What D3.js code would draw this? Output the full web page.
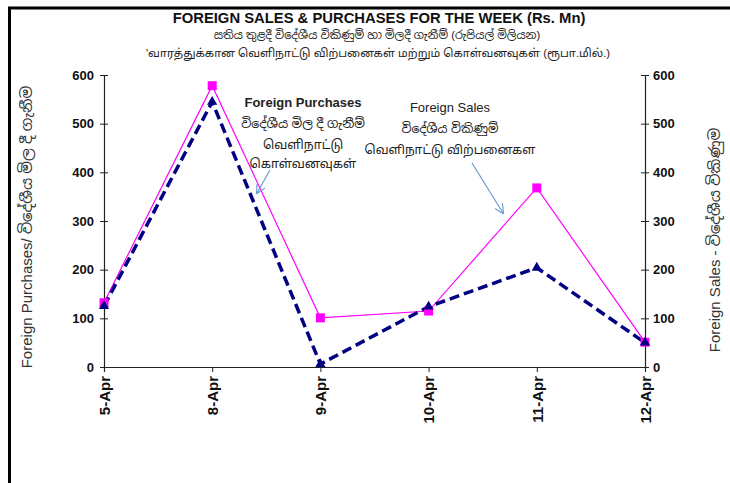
<!DOCTYPE html>
<html>
<head>
<meta charset="utf-8">
<script src="https://cdn.jsdelivr.net/npm/d3@7"></script>
<style>
body { margin: 0; background: #fff; }
text { font-family: "Liberation Sans", Arial, "Noto Sans Sinhala", "Noto Sans Tamil", sans-serif; }
</style>
</head>
<body>
<div id="main_div"></div>
<script>
var dates = ["5-Apr", "8-Apr", "9-Apr", "10-Apr", "11-Apr", "12-Apr"];
var sales = [132, 578, 101, 115, 368, 51];
var purchases = [125, 545, 6, 124, 204, 50];
var yticks = [0, 100, 200, 300, 400, 500, 600];

var titles = [
    "FOREIGN SALES & PURCHASES FOR THE WEEK (Rs. Mn)",
    "සතිය තුළදී විදේශීය විකිණුම් හා මිලදී ගැනීම් (රුපියල් මිලියන)",
    "'வாரத்துக்கான  வெளிநாட்டு  விற்பனைகள்  மற்றும்  கொள்வனவுகள்  (ரூபா.மில்.)"
];
var purchNote = ["Foreign Purchases", "විදේශීය මිල දී ගැනීම්", "வெளிநாட்டு", "கொள்வனவுகள்"];
var salesNote = ["Foreign Sales", "විදේශීය විකිණුම්", "வெளிநாட்டு  விற்பனைகள"];

var W = 730, H = 483;
var svg = d3.select("#main_div").append("svg").attr("width", W).attr("height", H);

// frame
svg.append("line").attr("x1", 8).attr("x2", W).attr("y1", 8).attr("y2", 8)
    .attr("stroke", "#000").attr("stroke-width", 3);
svg.append("line").attr("x1", 9.5).attr("x2", 9.5).attr("y1", 7).attr("y2", H)
    .attr("stroke", "#000").attr("stroke-width", 3);

var x_scale = d3.scalePoint().domain(dates).range([104, 645]);
var y_scale = d3.scaleLinear().domain([0, 600]).range([367, 75]);

// titles
svg.append("text").attr("x", 379).attr("y", 23).attr("text-anchor", "middle")
    .attr("font-size", 14.8).attr("font-weight", "bold").attr("fill", "#111").text(titles[0]);
svg.append("text").attr("x", 377).attr("y", 39).attr("text-anchor", "middle")
    .attr("font-size", 11.3).attr("fill", "#222").text(titles[1]);
svg.append("text").attr("x", 378).attr("y", 57).attr("text-anchor", "middle")
    .attr("font-size", 11.3).attr("fill", "#222").text(titles[2]);

// axes
var tickFmt = function(d) { return d; };
var g_y = svg.append("g").attr("transform", "translate(104,0)")
    .call(d3.axisLeft(y_scale).tickValues(yticks).tickSize(4).tickFormat(tickFmt));
var g_y2 = svg.append("g").attr("transform", "translate(645,0)")
    .call(d3.axisRight(y_scale).tickValues(yticks).tickSize(4).tickFormat(tickFmt));
var g_x = svg.append("g").attr("transform", "translate(0,367)")
    .call(d3.axisBottom(x_scale).tickSize(5));

[g_y, g_y2, g_x].forEach(function(g) {
    g.select(".domain").attr("stroke", "#222").attr("stroke-width", 1.2);
    g.selectAll(".tick line").attr("stroke", "#222");
    g.selectAll("text").attr("font-size", 13).attr("font-weight", "bold")
        .attr("fill", "#111").attr("font-family", "Liberation Sans, Arial, sans-serif");
});
// ticks cross the axes
g_y.selectAll(".tick line").attr("x1", 4);
g_y2.selectAll(".tick line").attr("x1", -4);
g_y.selectAll(".tick text").attr("x", -10);
g_y2.selectAll(".tick text").attr("x", 8);
g_x.selectAll(".tick text").attr("transform", "rotate(-90)").attr("font-size", 15)
    .attr("text-anchor", "end").attr("x", -9).attr("y", 0).attr("dy", "0.35em");

// axis titles
svg.append("text").attr("transform", "translate(32,227) rotate(-90)")
    .attr("text-anchor", "middle").attr("font-size", 15).attr("fill", "#333")
    .text("Foreign Purchases/ විදේශීය මිල දී ගැනීම");
svg.append("text").attr("transform", "translate(720,240) rotate(-90)")
    .attr("text-anchor", "middle").attr("font-size", 15).attr("fill", "#333")
    .text("Foreign Sales  -  විදේශීය විකිණුම");

// sales line
var line_s = d3.line().x(function(d, i) { return x_scale(dates[i]); })
    .y(function(d) { return y_scale(d); });
svg.append("path").datum(sales).attr("d", line_s)
    .attr("fill", "none").attr("stroke", "#ff00ff").attr("stroke-width", 1.2);

// purchases line
svg.append("path").datum(purchases).attr("d", line_s)
    .attr("fill", "none").attr("stroke", "#000080").attr("stroke-width", 3.5)
    .attr("stroke-dasharray", "10,5");

svg.append("g").selectAll("rect").data(sales).enter().append("rect")
    .attr("x", function(d, i) { return x_scale(dates[i]) - 4.5; })
    .attr("y", function(d) { return y_scale(d) - 4.5; })
    .attr("width", 9).attr("height", 9).attr("fill", "#ff00ff");

var tri = d3.symbol().type(d3.symbolTriangle).size(45);
svg.append("g").selectAll("path").data(purchases).enter().append("path")
    .attr("d", tri)
    .attr("transform", function(d, i) { return "translate(" + x_scale(dates[i]) + "," + y_scale(d) + ")"; })
    .attr("fill", "#000080");

// annotations
var noteY = [107, 128, 149, 168];
svg.append("g").selectAll("text").data(purchNote).enter().append("text")
    .attr("x", 303).attr("y", function(d, i) { return noteY[i]; })
    .attr("text-anchor", "middle")
    .attr("font-size", function(d, i) { return i == 0 ? 13 : 12.5; })
    .attr("font-weight", function(d, i) { return i == 0 ? "bold" : "normal"; })
    .attr("fill", "#222")
    .text(function(d) { return d; });
var noteY2 = [112, 133, 154];
svg.append("g").selectAll("text").data(salesNote).enter().append("text")
    .attr("x", 450).attr("y", function(d, i) { return noteY2[i]; })
    .attr("text-anchor", "middle")
    .attr("font-size", function(d, i) { return i == 0 ? 13 : 12.3; })
    .attr("fill", "#222")
    .text(function(d) { return d; });

svg.append("defs").append("marker").attr("id", "arr")
    .attr("viewBox", "0 0 10 10").attr("refX", 9).attr("refY", 5)
    .attr("markerWidth", 8).attr("markerHeight", 8).attr("orient", "auto")
    .append("path").attr("d", "M0,0 L10,5 L0,10").attr("fill", "none")
    .attr("stroke", "#6a9bd1").attr("stroke-width", 1.2);
svg.append("line").attr("x1", 270).attr("y1", 170).attr("x2", 257).attr("y2", 193)
    .attr("stroke", "#6a9bd1").attr("stroke-width", 1.2).attr("marker-end", "url(#arr)");
svg.append("line").attr("x1", 472).attr("y1", 163).attr("x2", 503).attr("y2", 213)
    .attr("stroke", "#6a9bd1").attr("stroke-width", 1.2).attr("marker-end", "url(#arr)");
</script>
</body>
</html>
